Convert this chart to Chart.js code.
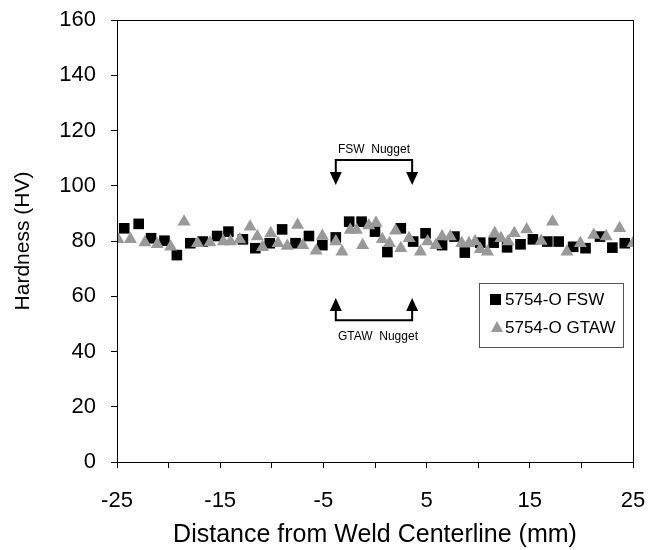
<!DOCTYPE html>
<html lang="en">
<head>
  <meta charset="UTF-8">
  <title>Hardness profile</title>
  <script src="https://cdn.jsdelivr.net/npm/chart.js@4/dist/chart.umd.min.js"></script>
  <style>
    body {
      margin: 0;
      background: #fff;
    }
    #wrap {
      width: 652px;
      height: 550px;
    }
  </style>
</head>
<body>
  <div id="wrap"><canvas id="hv"></canvas></div>
  <script>
    // 5754-O FSW (squares): distance (mm), hardness (HV)
    const fswX = [-24.3, -22.9, -21.7, -20.4, -19.2, -17.9, -16.7, -15.3, -14.2, -12.8, -11.6, -10.2, -9.0,
      -7.7, -6.4, -5.1, -3.8, -2.5, -1.3, 0.0, 1.2, 2.5, 3.7, 4.9, 6.5, 7.7, 8.7,
      10.2, 11.5, 12.8, 14.1, 15.3, 16.7, 17.8, 19.2, 20.4, 21.8, 23.0, 24.2];
    const fswHV = [84.6, 86.2, 81.0, 80.1, 74.9, 79.2, 79.8, 81.8, 83.4, 80.6, 77.4, 79.2, 84.2,
      79.2, 81.8, 78.5, 81.3, 87.0, 87.0, 83.4, 76.0, 84.6, 79.8, 82.8, 78.5, 81.6, 75.8,
      79.4, 79.4, 77.7, 78.8, 80.6, 79.8, 79.8, 77.9, 77.4, 81.6, 77.6, 79.2];

    // 5754-O GTAW (triangles)
    const gtawX = [-24.9, -23.7, -22.3, -21.1, -19.8, -18.5, -17.2, -16.0, -14.7, -14.0, -13.1, -12.1, -11.4,
      -10.9, -10.1, -9.4, -8.5, -7.5, -7.0, -5.7, -5.1, -3.8, -3.2, -2.4, -1.8, -1.2, -0.6, 0.1,
      0.7, 1.4, 2.0, 2.5, 3.3, 4.4, 5.1, 5.9, 6.5, 7.3, 8.4, 9.1, 9.7, 10.2, 10.9, 11.6, 12.2,
      12.9, 13.5, 14.7, 16.1, 17.2, 18.6, 19.9, 21.2, 22.4, 23.7, 25.0];
    const gtawHV = [80.6, 80.6, 79.5, 78.8, 77.9, 87.0, 79.2, 79.5, 79.8, 79.8, 80.5, 85.2, 81.6,
      77.7, 82.8, 79.2, 78.2, 85.8, 78.5, 76.5, 81.8, 79.8, 76.1, 84.0, 84.0, 78.5, 85.6, 86.5,
      80.6, 79.2, 83.7, 77.4, 81.0, 76.1, 79.8, 78.5, 81.6, 81.6, 79.2, 79.2, 79.8, 77.0, 76.1, 82.8, 81.0,
      79.8, 82.8, 84.2, 80.0, 87.0, 76.1, 79.2, 82.2, 81.6, 84.6, 79.2];

    const seriesNames = ['5754-O FSW', '5754-O GTAW'];
    const xTicksShown = [-25, -15, -5, 5, 15, 25];

    // nugget brackets: ends in mm, bracket line and arrow tip in HV
    const nuggetEnds = [-3.8, 3.6];
    const fswBracket = { line: 109.3, tip: 100.3, label: 'FSW  Nugget', labelY: 113 };
    const gtawBracket = { line: 51.3, tip: 59.4, label: 'GTAW  Nugget', labelY: 45.5 };

    const toPts = (xs, ys) => xs.map((x, i) => ({ x: x, y: ys[i] }));

    function arrowHead(ctx, x, tipY, dir) {
      // dir = 1 points down, -1 points up
      ctx.beginPath();
      ctx.moveTo(x, tipY);
      ctx.lineTo(x - 6, tipY - dir * 13);
      ctx.lineTo(x + 6, tipY - dir * 13);
      ctx.closePath();
      ctx.fill();
    }

    const extras = {
      id: 'extras',
      afterDraw(chart) {
        const ctx = chart.ctx;
        const a = chart.chartArea;
        const xs = chart.scales.x, ys = chart.scales.y;
        ctx.save();
        // frame
        ctx.strokeStyle = '#000';
        ctx.lineWidth = 1;
        ctx.strokeRect(a.left + 0.5, a.top + 0.5, a.right - a.left, a.bottom - a.top);

        // brackets
        ctx.fillStyle = '#000';
        ctx.lineWidth = 2;
        const x1 = xs.getPixelForValue(nuggetEnds[0]);
        const x2 = xs.getPixelForValue(nuggetEnds[1]);
        [[fswBracket, 1], [gtawBracket, -1]].forEach(([b, dir]) => {
          const ly = ys.getPixelForValue(b.line);
          const ty = ys.getPixelForValue(b.tip);
          ctx.beginPath();
          ctx.moveTo(x1, ty - dir * 12);
          ctx.lineTo(x1, ly);
          ctx.lineTo(x2, ly);
          ctx.lineTo(x2, ty - dir * 12);
          ctx.stroke();
          arrowHead(ctx, x1, ty, dir);
          arrowHead(ctx, x2, ty, dir);
          ctx.font = '12px "Liberation Sans", Arial, sans-serif';
          ctx.textAlign = 'center';
          ctx.textBaseline = 'middle';
          ctx.fillText(b.label, (x1 + x2) / 2 + (dir < 0 ? 4 : 0), ys.getPixelForValue(b.labelY));
        });

        // legend box
        const lx = 479, ly = 283, lw = 144, lh = 64;
        ctx.lineWidth = 1;
        ctx.fillStyle = '#fff';
        ctx.fillRect(lx, ly, lw, lh);
        ctx.strokeStyle = '#555';
        ctx.strokeRect(lx + 0.5, ly + 0.5, lw, lh);
        ctx.font = '17px "Liberation Sans", Arial, sans-serif';
        ctx.textAlign = 'left';
        ctx.textBaseline = 'middle';
        ctx.fillStyle = '#000';
        ctx.fillRect(490, 294, 11, 11);
        ctx.fillText(seriesNames[0], 505, 300);
        ctx.fillStyle = '#999';
        ctx.beginPath();
        ctx.moveTo(497, 321);
        ctx.lineTo(503, 332);
        ctx.lineTo(491, 332);
        ctx.closePath();
        ctx.fill();
        ctx.fillStyle = '#000';
        ctx.fillText(seriesNames[1], 505, 328);
        ctx.restore();
      }
    };

    const font = '"Liberation Sans", Arial, sans-serif';

    new Chart(document.getElementById('hv'), {
      type: 'scatter',
      data: {
        datasets: [{
          label: seriesNames[1],
          data: toPts(gtawX, gtawHV),
          pointStyle: 'triangle',
          pointRadius: 7.5,
          backgroundColor: '#999999',
          borderColor: '#999999',
          borderWidth: 0
        }, {
          label: seriesNames[0],
          data: toPts(fswX, fswHV),
          pointStyle: 'rect',
          pointRadius: 7.5,
          backgroundColor: '#000000',
          borderColor: '#000000',
          borderWidth: 0
        }]
      },
      options: {
        responsive: true,
        maintainAspectRatio: false,
        animation: false,
        layout: { padding: { top: 20, right: 19, left: 0, bottom: 0 } },
        plugins: {
          legend: { display: false },
          tooltip: { enabled: false }
        },
        scales: {
          x: {
            type: 'linear',
            min: -25,
            max: 25,
            afterFit(s) {
              s.height = 88;
              s.paddingLeft = 0;
              s.paddingRight = 0;
            },
            grid: { drawOnChartArea: false, color: '#000', tickLength: 6 },
            border: { color: '#000', width: 1 },
            ticks: {
              stepSize: 5,
              color: '#000',
              padding: 20,
              maxRotation: 0,
              autoSkip: false,
              font: { family: font, size: 22 },
              callback: v => xTicksShown.includes(v) ? String(v) : ''
            },
            title: {
              display: true,
              text: 'Distance from Weld Centerline (mm)',
              color: '#000',
              font: { family: font, size: 25 },
              padding: { top: 0, bottom: 0 }
            }
          },
          y: {
            min: 0,
            max: 160,
            afterFit(s) {
              s.width = 117;
              s.paddingTop = 0;
              s.paddingBottom = 0;
            },
            grid: { drawOnChartArea: false, color: '#000', tickLength: 6 },
            border: { color: '#000', width: 1 },
            ticks: {
              stepSize: 20,
              color: '#000',
              padding: 15,
              font: { family: font, size: 22 }
            },
            title: {
              display: true,
              text: 'Hardness (HV)',
              color: '#000',
              font: { family: font, size: 21 },
              padding: { top: 11, bottom: 0 }
            }
          }
        }
      },
      plugins: [extras]
    });
  </script>
</body>
</html>
